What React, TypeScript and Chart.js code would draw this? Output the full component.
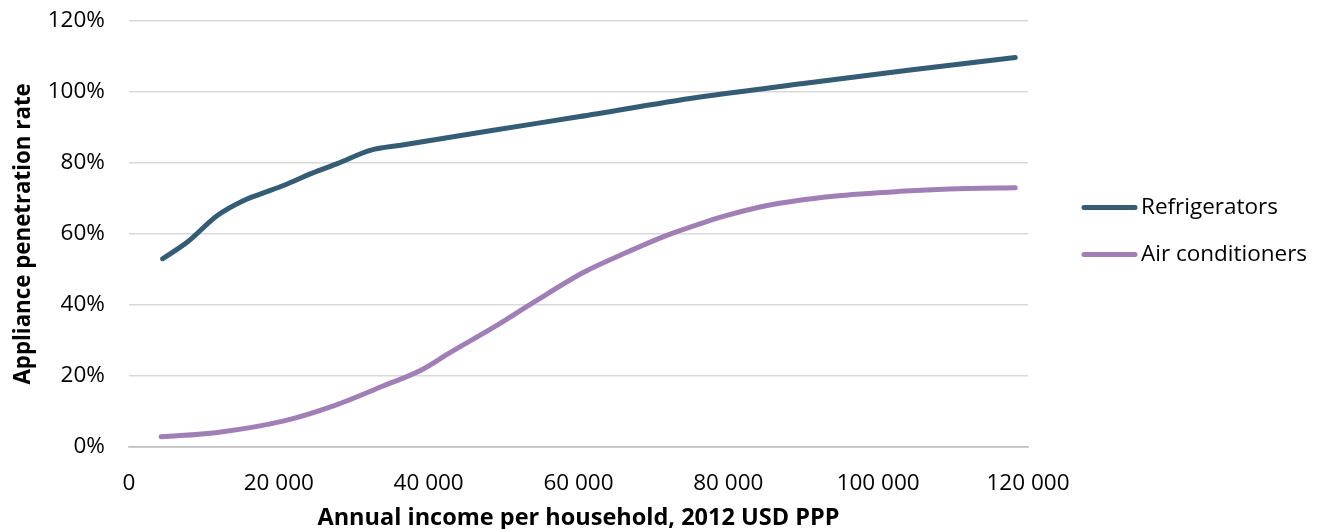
import React, { useEffect, useRef } from "react";
import { Chart, registerables } from "chart.js";

Chart.register(...registerables);

const seriesNames = ["Refrigerators", "Air conditioners"];
const seriesColors = ["#345C75", "#A07FB6"];

const refrigeratorIncome = [4500, 7800, 11800, 15400, 17600, 20700, 24300, 27800, 32300, 36300, 48000, 60000, 76000, 90000, 104000, 118300];
const refrigeratorRate = [53.0, 57.7, 65.2, 69.5, 71.3, 73.7, 77.0, 79.8, 83.6, 85.0, 89.0, 93.0, 98.5, 102.4, 106.1, 109.7];

const acIncome = [4300, 11800, 20700, 27400, 34000, 38900, 42900, 48700, 54000, 60700, 66000, 71800, 76300, 79800, 85200, 94000, 102900, 111800, 118300];
const acRate = [2.8, 4.05, 7.3, 11.6, 17.2, 21.5, 26.6, 33.7, 40.7, 49.2, 54.4, 59.6, 62.9, 65.2, 68.0, 70.6, 72.0, 72.8, 73.0];

const xTicks = [0, 20000, 40000, 60000, 80000, 100000, 120000];
const yTicks = [0, 20, 40, 60, 80, 100, 120];

const xTitle = "Annual income per household, 2012 USD PPP";
const yTitle = "Appliance penetration rate";

const FONT = "'Open Sans', 'Noto Sans', sans-serif";
const TICK_SIZE = 22.5;

const legendPlugin = {
  id: "sideLegend",
  afterDraw(chart: any) {
    const { ctx, chartArea } = chart;
    const cy = (chartArea.top + chartArea.bottom) / 2 - 3;
    const x0 = chartArea.right + 54;
    const gap = 47;
    chart.data.datasets.forEach((ds: any, i: number) => {
      const y = cy - gap / 2 + i * gap;
      ctx.save();
      ctx.strokeStyle = ds.borderColor;
      ctx.lineWidth = 5;
      ctx.lineCap = "round";
      ctx.beginPath();
      ctx.moveTo(x0 + 2, y);
      ctx.lineTo(x0 + 53, y);
      ctx.stroke();
      ctx.fillStyle = "#000";
      ctx.font = `${TICK_SIZE}px ${FONT}`;
      ctx.textBaseline = "middle";
      ctx.textAlign = "left";
      ctx.fillText(ds.label, x0 + 59, y);
      ctx.restore();
    });
  },
};

function fmtThousands(v: number) {
  return String(v).replace(/\B(?=(\d{3})+(?!\d))/g, " ");
}

export default function App() {
  const ref = useRef<HTMLCanvasElement>(null);
  useEffect(() => {
    if (!ref.current) return;
    const chart = new Chart(ref.current, {
      type: "line",
      data: {
        datasets: [
          {
            label: seriesNames[0],
            data: refrigeratorIncome.map((x, i) => ({ x, y: refrigeratorRate[i] })),
            borderColor: seriesColors[0],
            backgroundColor: seriesColors[0],
            borderWidth: 5,
            pointRadius: 0,
            cubicInterpolationMode: "monotone",
            borderCapStyle: "round",
            borderJoinStyle: "round",
            fill: false,
          },
          {
            label: seriesNames[1],
            data: acIncome.map((x, i) => ({ x, y: acRate[i] })),
            borderColor: seriesColors[1],
            backgroundColor: seriesColors[1],
            borderWidth: 5,
            pointRadius: 0,
            cubicInterpolationMode: "monotone",
            borderCapStyle: "round",
            borderJoinStyle: "round",
            fill: false,
          },
        ],
      },
      options: {
        animation: false,
        responsive: true,
        maintainAspectRatio: false,
        layout: { padding: { left: 10, right: 292, top: 21, bottom: 0 } },
        plugins: {
          legend: { display: false },
          tooltip: { enabled: false },
        },
        scales: {
          x: {
            type: "linear",
            min: 0,
            max: 120000,
            afterBuildTicks: (axis: any) => {
              axis.ticks = xTicks.map((v) => ({ value: v }));
            },
            grid: { display: true, drawOnChartArea: false, drawTicks: true, tickLength: 20, color: "rgba(0,0,0,0)" },
            border: { display: true, color: "#bfbfbf", width: 1.5 },
            ticks: {
              padding: 3,
              color: "#000",
              font: { family: FONT, size: TICK_SIZE },
              maxRotation: 0,
              callback: (v: any) => fmtThousands(Number(v)),
            },
            title: {
              display: true,
              text: xTitle,
              color: "#000",
              font: { family: FONT, size: 23.5, weight: "bold" },
              padding: { top: 4, bottom: -3 },
            },
          },
          y: {
            type: "linear",
            min: 0,
            max: 120,
            afterBuildTicks: (axis: any) => {
              axis.ticks = yTicks.map((v) => ({ value: v }));
            },
            grid: {
              drawTicks: true,
              tickLength: 21,
              tickColor: "rgba(0,0,0,0)",
              lineWidth: 1.5,
              color: (c: any) => (c.tick && c.tick.value === 0 ? "#bfbfbf" : "#d9d9d9"),
            },
            border: { display: false },
            ticks: {
              padding: 3,
              color: "#000",
              font: { family: FONT, size: TICK_SIZE },
              callback: (v: any) => `${v}%`,
            },
            title: {
              display: true,
              text: yTitle,
              color: "#000",
              font: { family: FONT, size: 22.3, weight: "bold" },
              padding: { top: 0, bottom: 8 },
            },
          },
        },
      },
      plugins: [legendPlugin],
    } as any);
    return () => chart.destroy();
  }, []);
  return (
    <div style={{ position: "fixed", left: 0, top: 0, width: 1320, height: 529, background: "#fff" }}>
      <canvas ref={ref} />
    </div>
  );
}
